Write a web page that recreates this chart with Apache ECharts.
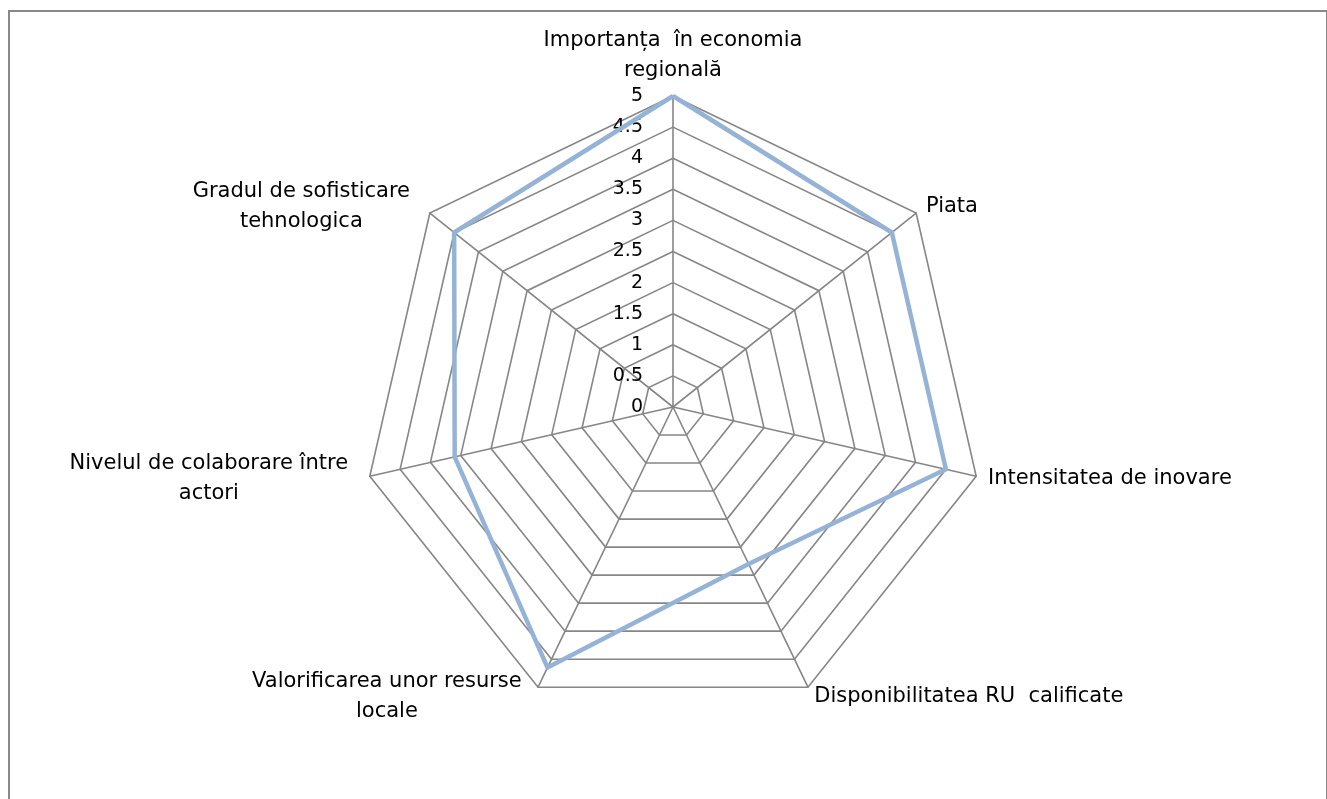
<!DOCTYPE html>
<html lang="ro" style="height: 100%">
<head>
  <meta charset="utf-8">
</head>
<body style="height: 100%; margin: 0; background: #fff; overflow: hidden">
  <div id="frame" style="position: absolute; left: 8px; top: 10px; width: 1320px; height: 820px; border: 2px solid #888; box-sizing: border-box"></div>
  <div id="container" style="position: absolute; left: 0; top: 0; width: 1327px; height: 799px"></div>

  <script type="text/javascript" src="https://fastly.jsdelivr.net/npm/echarts@6/dist/echarts.min.js"></script>
  <script type="text/javascript">
    var criterii = [
      'Importanța  în economia\nregională',
      'Piata',
      'Intensitatea de inovare',
      'Disponibilitatea RU  calificate',
      'Valorificarea unor resurse\nlocale',
      'Nivelul de colaborare între\nactori',
      'Gradul de sofisticare\ntehnologica'
    ];
    var scoruri = [5, 4.5, 4.5, 2.8, 4.65, 3.6, 4.5];
    var maxScor = 5;

    var dom = document.getElementById('container');
    var myChart = echarts.init(dom, null, { renderer: 'canvas' });
    var option;

    // echarts lays radar axes out counter-clockwise, the original goes clockwise
    var ordine = [0];
    for (var k = criterii.length - 1; k > 0; k--) ordine.push(k);

    var indicators = ordine.map(function (i) {
      var ind = { name: criterii[i], min: 0, max: maxScor };
      // only the top axis carries the tick labels
      if (i === 0) {
        ind.axisLabel = { show: true };
      }
      // names on the left sit a bit further from the web
      if (i >= 4) {
        ind.nameTextStyle = { padding: [0, 12, 0, 0] };
      } else if (i > 0) {
        ind.nameTextStyle = { padding: [0, 0, 0, 2] };
      }
      return ind;
    });
    var valori = ordine.map(function (i) { return scoruri[i]; });

    option = {
      animation: false,
      textStyle: { fontFamily: 'DejaVu Sans' },
      radar: {
        center: [673, 407],
        radius: 311,
        startAngle: 90,
        splitNumber: 10,
        shape: 'polygon',
        indicator: indicators,
        axisName: {
          color: '#000',
          fontSize: 21,
          fontFamily: 'DejaVu Sans',
          lineHeight: 30,
          // centre wrapped lines inside the label block
          formatter: function (name) {
            return name.split('\n').map(function (s) { return '{c|' + s + '}'; }).join('\n');
          },
          rich: {
            c: { align: 'center', fontSize: 21, lineHeight: 30, color: '#000', fontFamily: 'DejaVu Sans' }
          }
        },
        nameGap: 10,
        axisLine: { lineStyle: { color: '#868686', width: 1.6 } },
        splitLine: { lineStyle: { color: '#868686', width: 1.6 } },
        splitArea: { show: false },
        axisTick: { show: false },
        axisLabel: {
          show: false,
          color: '#000',
          fontSize: 19,
          fontFamily: 'DejaVu Sans',
          margin: 30,
          formatter: function (v) { return String(Math.round(v * 10) / 10); }
        }
      },
      series: [
        {
          type: 'radar',
          symbol: 'none',
          lineStyle: { color: '#95B3D7', width: 4.5 },
          data: [{ value: valori, name: 'Scor' }]
        }
      ]
    };

    myChart.setOption(option);
    window.addEventListener('resize', myChart.resize);
  </script>
</body>
</html>
